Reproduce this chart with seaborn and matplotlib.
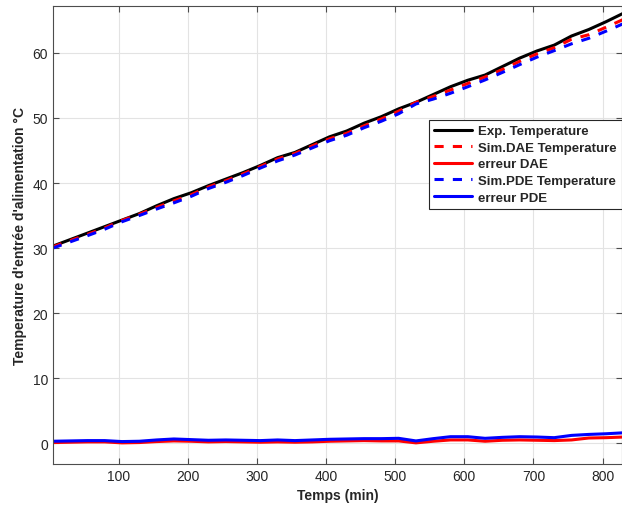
import matplotlib
matplotlib.use("Agg")
import matplotlib.pyplot as plt
import seaborn as sns
import pandas as pd

# Time axis (minutes)
temps = [5, 30, 55, 80, 105, 130, 155, 180, 205, 230, 255, 280, 305, 330, 355, 380, 405,
         430, 455, 480, 505, 530, 555, 580, 605, 630, 655, 680, 705, 730, 755, 780, 805, 830]

# Measured feed inlet temperature (°C)
exp_temp = [30.3, 31.3, 32.3, 33.3, 34.3, 35.3, 36.5, 37.6, 38.5, 39.6, 40.6, 41.6, 42.7,
            43.9, 44.7, 45.9, 47.1, 48.0, 49.2, 50.2, 51.4, 52.4, 53.6, 54.8, 55.8, 56.6,
            57.9, 59.2, 60.3, 61.2, 62.6, 63.6, 64.8, 66.1]

# DAE model prediction
sim_dae = [30.2, 31.15, 32.1, 33.1, 34.25, 35.2, 36.25, 37.25, 38.2, 39.4, 40.35, 41.4,
           42.55, 43.7, 44.55, 45.7, 46.8, 47.65, 48.8, 49.85, 51.05, 52.4, 53.3, 54.3,
           55.3, 56.3, 57.45, 58.7, 59.85, 60.8, 62.1, 62.8, 63.95, 65.15]

# PDE model prediction
sim_pde = [30.0, 30.95, 31.9, 32.9, 34.05, 35.0, 36.0, 36.95, 37.95, 39.15, 40.1, 41.15,
           42.3, 43.4, 44.3, 45.4, 46.5, 47.35, 48.5, 49.5, 50.65, 52.15, 52.9, 53.8,
           54.8, 55.85, 57.0, 58.2, 59.35, 60.35, 61.4, 62.25, 63.35, 64.5]

# Absolute errors of each model
err_dae = [0.1, 0.15, 0.2, 0.2, 0.05, 0.1, 0.25, 0.35, 0.3, 0.2, 0.25, 0.2, 0.15, 0.2, 0.15,
           0.2, 0.3, 0.35, 0.4, 0.35, 0.35, 0.05, 0.3, 0.5, 0.5, 0.3, 0.45, 0.5, 0.45, 0.4,
           0.5, 0.8, 0.85, 0.95]
err_pde = [0.3, 0.35, 0.4, 0.4, 0.25, 0.3, 0.5, 0.65, 0.55, 0.45, 0.5, 0.45, 0.4, 0.5, 0.4,
           0.5, 0.6, 0.65, 0.7, 0.7, 0.75, 0.35, 0.7, 1.0, 1.0, 0.75, 0.9, 1.0, 0.95, 0.85,
           1.2, 1.35, 1.45, 1.6]

sns.set_style("ticks")
plt.rcParams["font.family"] = ["Liberation Sans", "DejaVu Sans"]

fig = plt.figure(figsize=(6.22, 5.06), dpi=100)
ax = fig.add_axes([0.085, 0.081, 0.915, 0.905])

df = pd.DataFrame({"t": temps, "exp": exp_temp, "dae": sim_dae, "edae": err_dae,
                   "pde": sim_pde, "epde": err_pde})

lw = 2.2
sns.lineplot(data=df, x="t", y="exp", ax=ax, color="black", lw=lw, label="Exp. Temperature")
sns.lineplot(data=df, x="t", y="dae", ax=ax, color="#ff0000", lw=lw, ls=(0, (3, 3)),
             label="Sim.DAE Temperature")
sns.lineplot(data=df, x="t", y="edae", ax=ax, color="#ff0000", lw=lw, label="erreur DAE")
sns.lineplot(data=df, x="t", y="pde", ax=ax, color="#0000ff", lw=lw, ls=(0, (3, 3)),
             label="Sim.PDE Temperature")
sns.lineplot(data=df, x="t", y="epde", ax=ax, color="#0000ff", lw=lw, label="erreur PDE")

ax.set_xlim(5, 828)
ax.set_ylim(-3.2, 67.2)
ax.set_xticks(range(100, 900, 100))
ax.set_yticks(range(0, 70, 10))
ax.grid(True, color="#e3e3e3", lw=0.8)
ax.set_axisbelow(True)
for s in ax.spines.values():
    s.set_color("#4d4d4d")
    s.set_linewidth(0.8)
ax.tick_params(direction="in", length=4, colors="#4d4d4d", labelcolor="#262626",
               labelsize=10, top=True, right=True)

ax.set_xlabel("Temps (min)", fontsize=10, fontweight="bold", color="#262626")
ax.set_ylabel("Temperature d'entrée d'alimentation °C", fontsize=10, fontweight="bold",
              color="#262626")

leg = ax.legend(loc="upper right", bbox_to_anchor=(1.0, 0.752), frameon=True, fancybox=False,
                prop={"weight": "bold", "size": 9.5}, handlelength=2.9, borderpad=0.4,
                labelspacing=0.33, handletextpad=0.45, borderaxespad=0.0)
leg.get_frame().set_edgecolor("#262626")
leg.get_frame().set_linewidth(0.8)
leg.get_frame().set_alpha(1)

fig.savefig("out.png", dpi=100)
